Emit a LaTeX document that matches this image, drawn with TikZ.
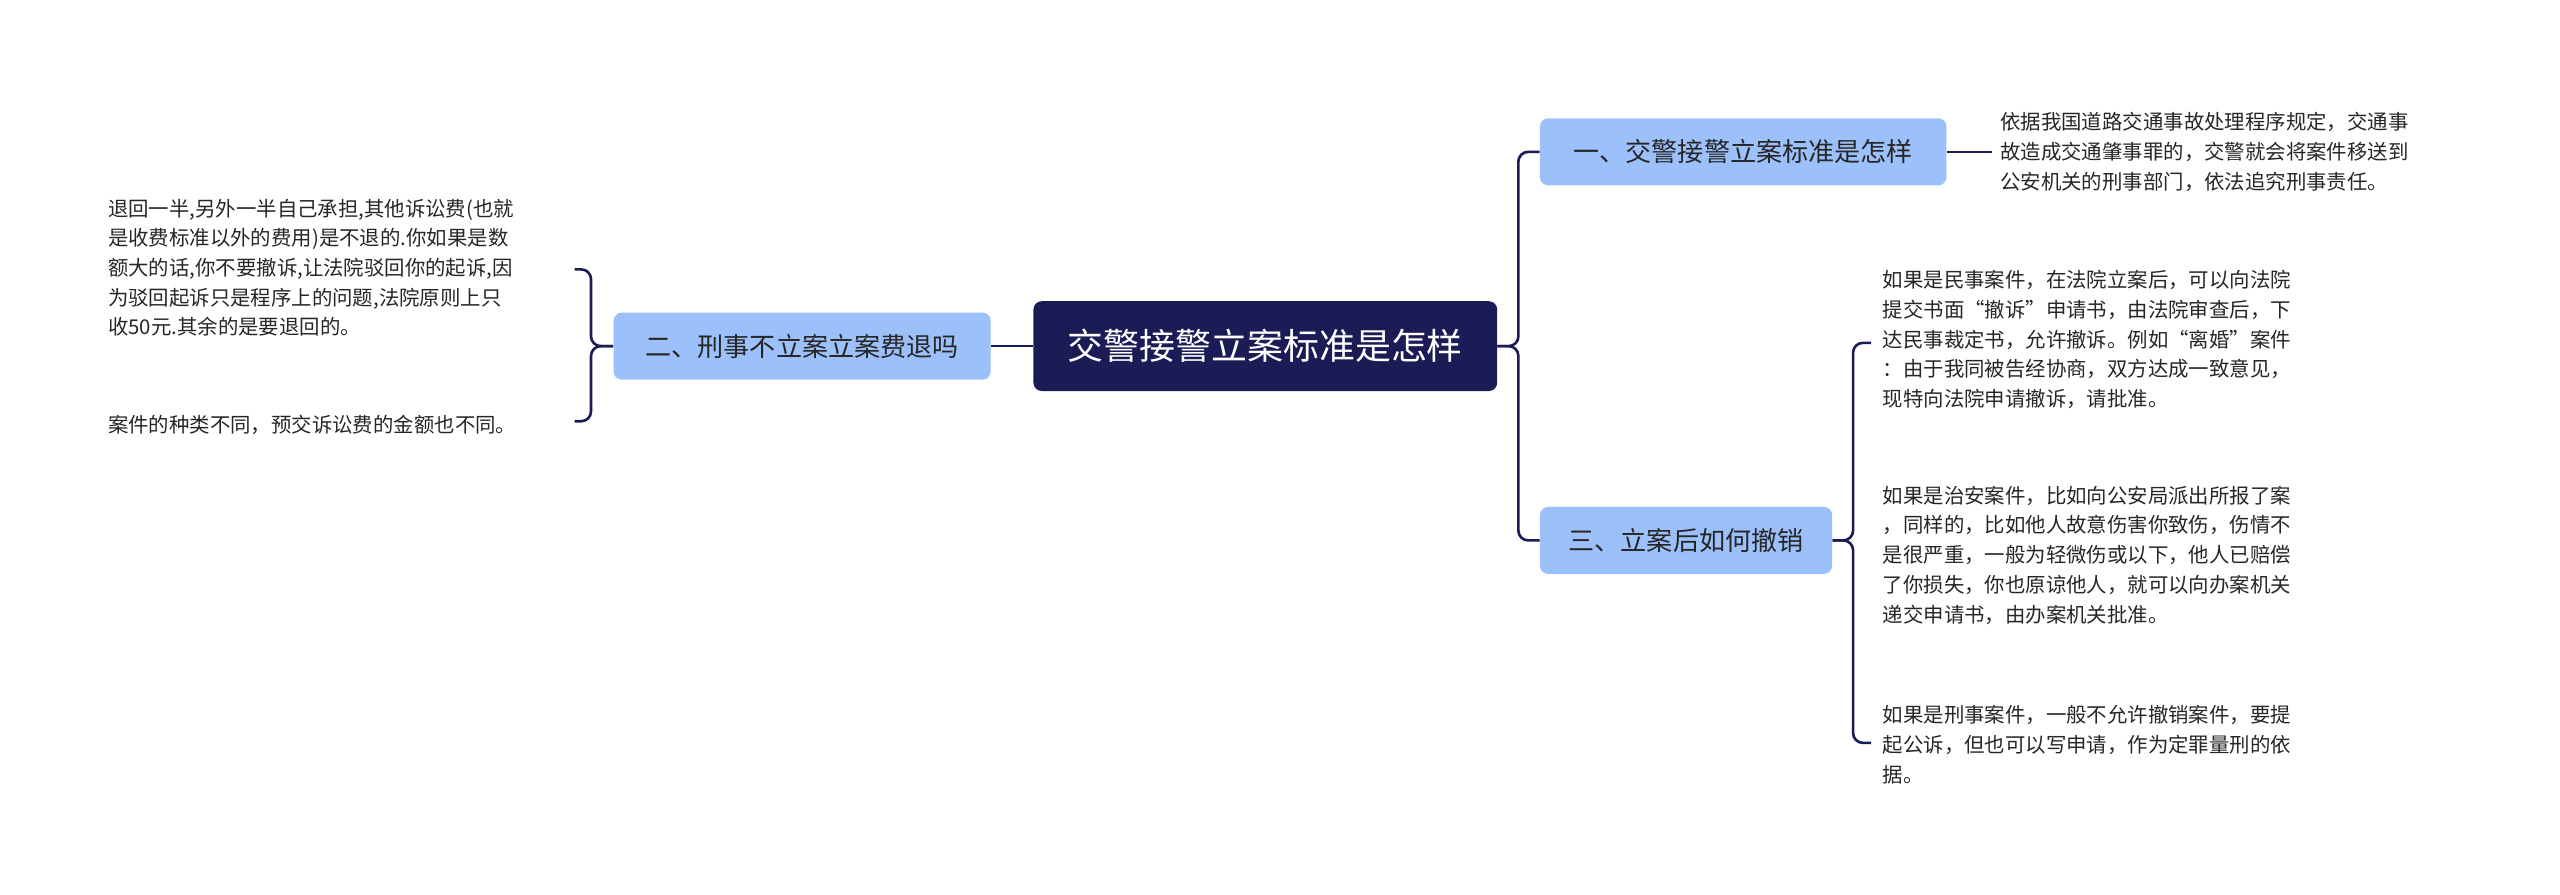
\documentclass[tikz,border=0pt]{standalone}
\usepackage{fontspec}
\setmainfont{Noto Sans CJK SC}
\begin{document}
\begin{tikzpicture}[x=1pt,y=-1pt,
  conn/.style={draw=navy,line width=1.6pt,rounded corners=6pt},
  branch/.style={fill=lblue,rounded corners=5pt,text=txt,font=\fontsize{16}{20}\selectfont,inner sep=0pt,minimum height=41pt,anchor=west},
  leaf/.style={text=txt,font=\fontsize{12.5}{18.2}\selectfont,align=left,inner sep=0pt,anchor=west}]
\definecolor{navy}{HTML}{1B1B55}
\definecolor{lblue}{HTML}{9CC0FA}
\definecolor{txt}{HTML}{262626}
\useasboundingbox (0,0) rectangle (1568,548);
\node[fill=navy,rounded corners=5pt,text=white,font=\fontsize{22}{26}\selectfont,minimum width=284pt,minimum height=55pt,inner sep=0pt] (c) at (775,212) {交警接警立案标准是怎样};
\node[branch,minimum width=249pt] (b1) at (943,93) {一、交警接警立案标准是怎样};
\node[branch,minimum width=179pt] (b3) at (943,331) {三、立案后如何撤销};
\node[branch,minimum width=231pt,anchor=east] (b2) at (607,212) {二、刑事不立案立案费退吗};
\node[leaf] (l1) at (1225,93) {依据我国道路交通事故处理程序规定，交通事\\故造成交通肇事罪的，交警就会将案件移送到\\公安机关的刑事部门，依法追究刑事责任。};
\node[leaf] (l31) at (1153,208) {如果是民事案件，在法院立案后，可以向法院\\提交书面“撤诉”申请书，由法院审查后，下\\达民事裁定书，允许撤诉。例如“离婚”案件\\：由于我同被告经协商，双方达成一致意见，\\现特向法院申请撤诉，请批准。};
\node[leaf] (l32) at (1153,340) {如果是治安案件，比如向公安局派出所报了案\\，同样的，比如他人故意伤害你致伤，伤情不\\是很严重，一般为轻微伤或以下，他人已赔偿\\了你损失，你也原谅他人，就可以向办案机关\\递交申请书，由办案机关批准。};
\node[leaf] (l33) at (1153,456) {如果是刑事案件，一般不允许撤销案件，要提\\起公诉，但也可以写申请，作为定罪量刑的依\\据。};
\node[leaf] (l21) at (66,164) {退回一半,另外一半自己承担,其他诉讼费(也就\\是收费标准以外的费用)是不退的.你如果是数\\额大的话,你不要撤诉,让法院驳回你的起诉,因\\为驳回起诉只是程序上的问题,法院原则上只\\收50元.其余的是要退回的。};
\node[leaf] (l22) at (66,260) {案件的种类不同，预交诉讼费的金额也不同。};
\draw[conn] (c.east) -- (930,212) |- (b1.west);
\draw[conn] (c.east) -- (930,212) |- (b3.west);
\draw[conn] (c.west) -- (b2.east);
\draw[conn] (b1.east) -- (1220,93);
\draw[conn] (b3.east) -- (1135,331) |- (1146,210);
\draw[conn] (b3.east) -- (1135,331) |- (1146,455);
\draw[conn] (b2.west) -- (362,212) |- (352,165);
\draw[conn] (b2.west) -- (362,212) |- (352,258);
\end{tikzpicture}
\end{document}
